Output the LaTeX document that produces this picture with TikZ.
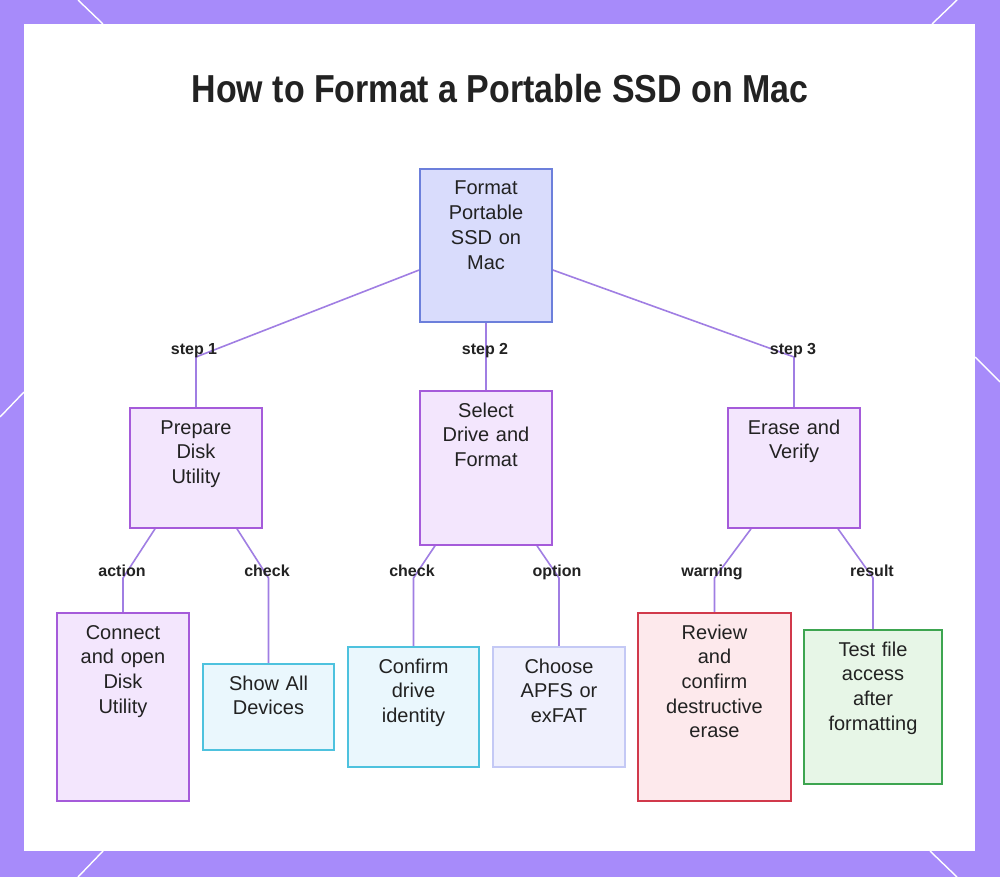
\documentclass[tikz,border=0pt]{standalone}
\usepackage{fontspec}
\setmainfont{Liberation Sans}
\usetikzlibrary{calc}
\definecolor{framec}{HTML}{A78BFA}
\definecolor{edgec}{HTML}{A07EE3}
\definecolor{rootfill}{HTML}{D9DCFC}
\definecolor{rootdraw}{HTML}{6C7FDB}
\definecolor{purfill}{HTML}{F3E6FD}
\definecolor{purdraw}{HTML}{A55BDA}
\definecolor{cyanfill}{HTML}{EAF7FD}
\definecolor{cyandraw}{HTML}{4EC2DE}
\definecolor{lavfill}{HTML}{EFF0FD}
\definecolor{lavdraw}{HTML}{C4C9F5}
\definecolor{redfill}{HTML}{FDE9EC}
\definecolor{reddraw}{HTML}{D1394B}
\definecolor{grnfill}{HTML}{E7F6E7}
\definecolor{grndraw}{HTML}{3DA550}
\definecolor{textc}{HTML}{222222}
\pgfdeclarelayer{bg}
\pgfdeclarelayer{edges}
\pgfsetlayers{bg,edges,main}
\tikzset{
  box/.style={draw, line width=1.6pt, inner sep=0pt},
  rootbox/.style={box, fill=rootfill, draw=rootdraw},
  purbox/.style={box, fill=purfill, draw=purdraw},
  cyanbox/.style={box, fill=cyanfill, draw=cyandraw},
  lavbox/.style={box, fill=lavfill, draw=lavdraw},
  redbox/.style={box, fill=redfill, draw=reddraw},
  grnbox/.style={box, fill=grnfill, draw=grndraw},
  txt/.style={anchor=base, text width=150pt, align=center, inner sep=0pt,
    text=textc, font=\fontsize{20}{24.7}\selectfont},
  lbl/.style={anchor=base, inner sep=0pt, text=textc,
    font=\fontsize{16}{16}\selectfont\bfseries},
  edge/.style={draw=edgec, line width=1.6pt},
  deco/.style={draw=white, line width=1.4pt}
}
\begin{document}
\begin{tikzpicture}[x=1pt,y=-1pt]
\useasboundingbox (0,0) rectangle (1000,877);
\begin{pgfonlayer}{bg}
\fill[framec] (0,0) rectangle (1000,877);
\draw[deco] (78,0) -- (103,24);
\draw[deco] (957,0) -- (932,24);
\draw[deco] (0,417) -- (24,392);
\draw[deco] (975,357) -- (1000,382);
\draw[deco] (103,851) -- (78,877);
\draw[deco] (930,851) -- (957,877);
\fill[white] (24,24) rectangle (975,851);
\end{pgfonlayer}

\node[anchor=base, inner sep=0pt, text=textc] (title) at (500,103)
  {\fontsize{39}{39}\selectfont\bfseries\scalebox{0.87}[1]{How to Format a Portable SSD on Mac}};

% boxes
\node[rootbox, minimum width=132pt, minimum height=153pt] (root) at (486,245.5) {};
\node[purbox, minimum width=132pt, minimum height=120pt] (prep) at (196,468) {};
\node[purbox, minimum width=132pt, minimum height=154pt] (sel) at (486,468) {};
\node[purbox, minimum width=132pt, minimum height=120pt] (erase) at (794,468) {};
\node[purbox, minimum width=132pt, minimum height=188pt] (conn) at (123,707) {};
\node[cyanbox, minimum width=131pt, minimum height=86pt] (show) at (268.5,707) {};
\node[cyanbox, minimum width=131pt, minimum height=120pt] (conf) at (413.5,707) {};
\node[lavbox, minimum width=132pt, minimum height=120pt] (choose) at (559,707) {};
\node[redbox, minimum width=153pt, minimum height=188pt] (review) at (714.5,707) {};
\node[grnbox, minimum width=138pt, minimum height=154pt] (test) at (873,707) {};

% box texts
\node[txt] (rootT) at (486,195) {Format\\Portable\\SSD on\\Mac};
\node[txt] (prepT) at (196,434) {Prepare\\Disk\\Utility};
\node[txt] (selT) at (486,417) {Select\\Drive and\\Format};
\node[txt] (eraseT) at (794,434) {Erase and\\Verify};
\node[txt] (connT) at (123,639) {Connect\\and open\\Disk\\Utility};
\node[txt] (showT) at (268.5,690) {Show All\\Devices};
\node[txt] (confT) at (413.5,673) {Confirm\\drive\\identity};
\node[txt] (chooseT) at (559,673) {Choose\\APFS or\\exFAT};
\node[txt] (reviewT) at (714.5,639) {Review\\and\\confirm\\destructive\\erase};
\node[txt] (testT) at (873,656) {Test file\\access\\after\\formatting};

% bend points
\coordinate (b1) at (196,357);
\coordinate (b3) at (794,357);
\coordinate (b4) at (123,578);
\coordinate (b5) at (268.5,578);
\coordinate (b6) at (413.5,578);
\coordinate (b7) at (559,578);
\coordinate (b8) at (714.5,578);
\coordinate (b9) at (873,578);

\begin{pgfonlayer}{edges}
\draw[edge] ([yshift=-24.5pt]root.west) -- (b1) -- (prep.north);
\draw[edge] (root.south) -- (sel.north);
\draw[edge] ([yshift=-24.5pt]root.east) -- (b3) -- (erase.north);
\draw[edge] ([xshift=-41pt]prep.south) -- (b4) -- (conn.north);
\draw[edge] ([xshift=41pt]prep.south) -- (b5) -- (show.north);
\draw[edge] ([xshift=-51pt]sel.south) -- (b6) -- (conf.north);
\draw[edge] ([xshift=51pt]sel.south) -- (b7) -- (choose.north);
\draw[edge] ([xshift=-43pt]erase.south) -- (b8) -- (review.north);
\draw[edge] ([xshift=44pt]erase.south) -- (b9) -- (test.north);
\end{pgfonlayer}

% labels
\node[lbl] (l1) at (194,354) {step 1};
\node[lbl] (l2) at (485,354) {step 2};
\node[lbl] (l3) at (793,354) {step 3};
\node[lbl] (l4) at (122,576) {action};
\node[lbl] (l5) at (267,576) {check};
\node[lbl] (l6) at (412,576) {check};
\node[lbl] (l7) at (557,576) {option};
\node[lbl] (l8) at (712,576) {warning};
\node[lbl] (l9) at (872,576) {result};
\end{tikzpicture}
\end{document}
